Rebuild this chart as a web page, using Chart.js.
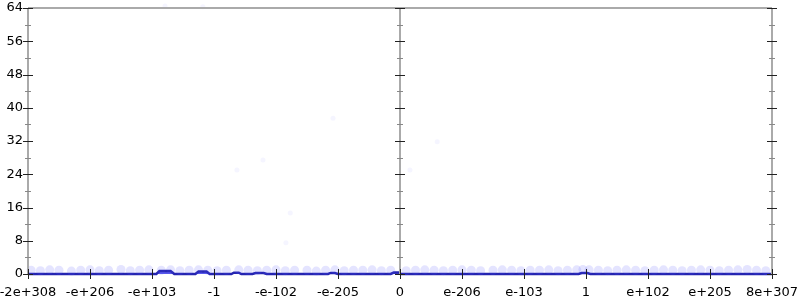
<!DOCTYPE html>
<html>
<head>
<meta charset="utf-8">
<script src="https://cdn.jsdelivr.net/npm/chart.js@4/dist/chart.umd.min.js"></script>
<style>
  html, body { margin: 0; padding: 0; background: #fff; }
  #graph { display: block; }
</style>
</head>
<body>
<canvas id="graph" width="800" height="300"></canvas>
<script>
const ctx = document.getElementById('graph').getContext('2d')

// tick labels, one per integer slot from -6 to 6
const xLabels = ['-2e+308', '-e+206', '-e+103', '-1', '-e-102', '-e-205', '0',
  'e-206', 'e-103', '1', 'e+102', 'e+205', '8e+307']
const yTicks = [0, 8, 16, 24, 32, 40, 48, 56, 64]

// main density line (x in slot units)
const lineX = [-6, -3.93, -3.88, -3.7, -3.64, -3.3, -3.25, -3.12, -3.07, -2.72, -2.68, -2.6, -2.56,
  -2.38, -2.33, -2.2, -2.15, -1.16, -1.12, -1.05, -1.0, -0.15, -0.1, -0.02, 0.02,
  2.88, 2.93, 3.02, 3.07, 6]
const lineY = [0, 0, 0.7, 0.7, 0, 0, 0.6, 0.6, 0, 0, 0.3, 0.3, 0,
  0, 0.25, 0.25, 0, 0, 0.25, 0.25, 0, 0, 0.35, 0.35, 0,
  0, 0.25, 0.25, 0, 0]

// faint sample band just above zero
const bandX = [-5.95, -5.8, -5.65, -5.5, -5.3, -5.15, -5.0, -4.85, -4.7, -4.5, -4.35, -4.2, -4.05,
  -3.85, -3.7, -3.55, -3.4, -3.25, -3.1, -2.95, -2.8, -2.6, -2.45, -2.3, -2.15, -2.0, -1.85,
  -1.7, -1.5, -1.35, -1.2, -1.05, -0.9, -0.75, -0.6, -0.45, -0.3, -0.15, 0.1, 0.25, 0.4,
  0.55, 0.7, 0.85, 1.0, 1.15, 1.3, 1.5, 1.65, 1.8, 1.95, 2.1, 2.25, 2.4, 2.55, 2.7, 2.85,
  2.95, 3.05, 3.2, 3.35, 3.5, 3.65, 3.8, 3.95, 4.1, 4.25, 4.4, 4.55, 4.7, 4.85, 5.0, 5.15,
  5.3, 5.45, 5.6, 5.75, 5.9]
const bandY = [0.9, 0.8, 1.0, 0.9, 0.7, 0.9, 1.0, 0.8, 0.9, 1.1, 0.8, 0.9, 1.0,
  0.9, 1.0, 0.8, 0.9, 1.0, 0.9, 0.8, 0.9, 1.0, 0.9, 0.8, 0.9, 1.0, 0.8,
  0.9, 0.9, 0.7, 0.9, 1.0, 0.8, 0.9, 0.9, 1.0, 0.8, 0.9, 0.8, 0.9, 1.0,
  0.9, 0.8, 0.9, 1.0, 0.9, 0.8, 0.9, 1.0, 0.9, 0.8, 0.9, 0.9, 1.0, 0.8, 0.9, 1.0,
  1.1, 1.0, 0.9, 0.8, 0.9, 1.0, 0.9, 0.8, 0.9, 1.0, 0.9, 0.8, 0.9, 1.0, 0.9, 0.8,
  0.9, 1.0, 1.1, 0.9, 0.8]

// stray samples further up
const strayX = [-3.79, -3.18, -1.08, -2.21, -2.63, 0.6, 0.16, -1.77, -1.84]
const strayY = [64.5, 64.3, 37.5, 27.4, 25, 31.8, 25, 14.7, 7.5]

const toPoints = (xs, ys) => xs.map((x, i) => ({ x: x, y: ys[i] }))

const axisLines = {
  id: 'axisLines',
  afterDatasetsDraw(chart) {
    const c = chart.ctx
    const xs = chart.scales.x
    const ys = chart.scales.y
    const top = ys.getPixelForValue(64)
    const base = ys.getPixelForValue(0)
    const verticals = [-6, 0, 6].map(v => Math.round(xs.getPixelForValue(v)))
    c.save()
    c.strokeStyle = '#aaaaaa'
    c.lineWidth = 2
    c.beginPath()
    c.moveTo(verticals[0], top)
    c.lineTo(verticals[2], top)
    verticals.forEach(px => { c.moveTo(px, top); c.lineTo(px, base) })
    c.stroke()
    // y ticks on each vertical axis
    verticals.forEach(px => {
      for (let v = 0; v <= 64; v += 4) {
        const py = Math.round(ys.getPixelForValue(v)) + 0.5
        const major = v % 8 === 0
        c.strokeStyle = major ? '#222' : '#888'
        c.lineWidth = 1
        c.beginPath()
        c.moveTo(px - (major ? 5 : 3), py)
        c.lineTo(px + (major ? 5 : 3), py)
        c.stroke()
      }
    })
    // x ticks
    c.strokeStyle = '#222'
    for (let i = -6; i <= 6; i++) {
      const px = Math.round(xs.getPixelForValue(i)) + 0.5
      c.beginPath()
      c.moveTo(px, base - 5)
      c.lineTo(px, base + 5)
      c.stroke()
    }
    c.restore()
  },
}

let graph = new Chart(ctx, {
  data: {
    datasets: [
      {
        type: 'scatter',
        data: toPoints(bandX, bandY),
        backgroundColor: 'rgba(90,90,255,0.16)',
        borderColor: 'transparent',
        pointRadius: 4.5,
        clip: false,
      },
      {
        type: 'scatter',
        data: toPoints(strayX, strayY),
        backgroundColor: 'rgba(90,90,255,0.06)',
        borderColor: 'transparent',
        pointRadius: 2.5,
        clip: false,
      },
      {
        type: 'line',
        data: toPoints(lineX, lineY),
        borderColor: '#2424b0',
        backgroundColor: 'rgba(60,60,230,0.85)',
        borderWidth: 2.5,
        fill: 'origin',
        pointRadius: 0,
        tension: 0,
        clip: false,
      },
    ],
  },
  options: {
    responsive: false,
    animation: false,
    layout: { padding: { top: 8, right: 28, left: 0, bottom: 0 } },
    plugins: { legend: { display: false }, tooltip: { enabled: false } },
    scales: {
      x: {
        type: 'linear',
        min: -6,
        max: 6,
        grid: { display: false, drawTicks: false },
        border: { display: false },
        afterFit: s => { s.height = 26; s.paddingLeft = 0; s.paddingRight = 0 },
        afterBuildTicks: s => { s.ticks = xLabels.map((_, i) => ({ value: i - 6 })) },
        ticks: {
          autoSkip: false,
          maxRotation: 0,
          padding: 11,
          color: '#000',
          font: { family: 'DejaVu Sans', size: 13 },
          callback: v => xLabels[v + 6],
        },
      },
      y: {
        type: 'linear',
        min: 0,
        max: 64,
        grid: { display: false, drawTicks: false },
        border: { display: false },
        afterFit: s => { s.width = 28; s.paddingTop = 0; s.paddingBottom = 0 },
        afterBuildTicks: s => { s.ticks = yTicks.map(v => ({ value: v })) },
        ticks: {
          padding: 5,
          color: '#000',
          font: { family: 'DejaVu Sans', size: 13 },
        },
      },
    },
  },
  plugins: [axisLines],
})
</script>
</body>
</html>
